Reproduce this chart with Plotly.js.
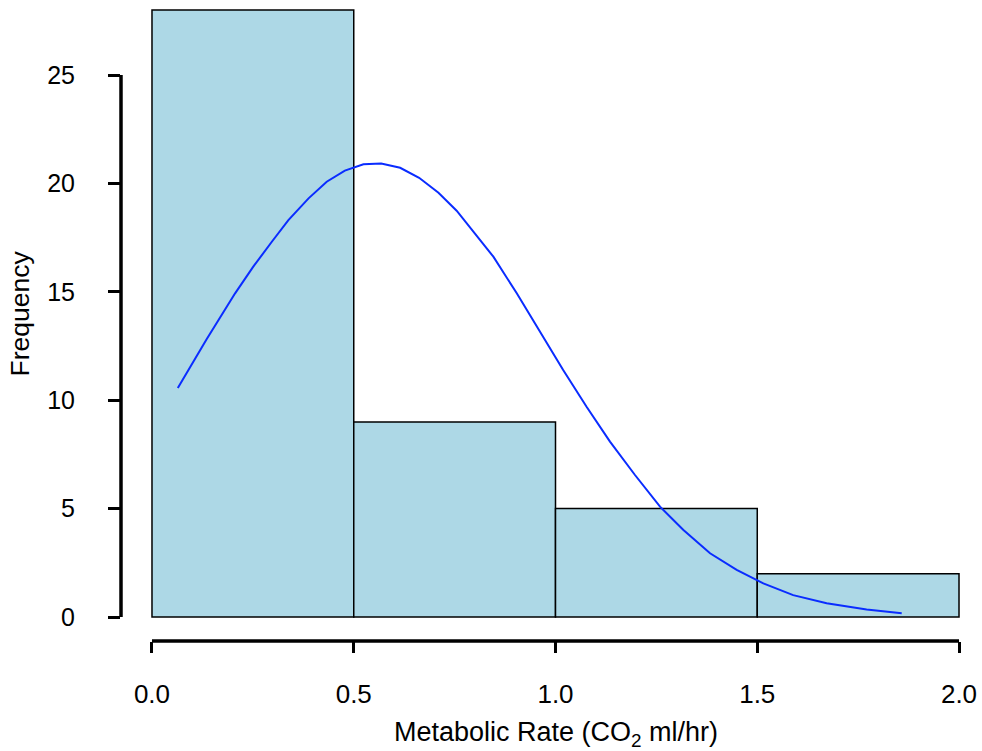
<!DOCTYPE html>
<html>
<head>
<meta charset="utf-8">
<script src="https://cdn.plot.ly/plotly-3.0.1.min.js"></script>
<style>html,body{margin:0;padding:0;background:#fff;}#chart{width:982px;height:751px;}</style>
</head>
<body>
<div id="chart"></div>
<script>
// Histogram bins and counts
const binEdges = [0, 0.5, 1.0, 1.5, 2.0];
const counts = [28, 9, 5, 2];
// Fitted normal curve
const curveX = [0.064, 0.135, 0.206, 0.251, 0.297, 0.338, 0.388, 0.433, 0.478, 0.524, 0.568, 0.615, 0.662, 0.710, 0.755, 0.800, 0.846, 0.904, 0.962, 1.019, 1.077, 1.135, 1.197, 1.259, 1.317, 1.383, 1.449, 1.515, 1.589, 1.672, 1.771, 1.858];
const curveY = [10.56, 12.80, 14.93, 16.16, 17.31, 18.31, 19.31, 20.08, 20.59, 20.88, 20.92, 20.72, 20.26, 19.57, 18.74, 17.70, 16.62, 14.93, 13.16, 11.39, 9.70, 8.09, 6.55, 5.09, 4.01, 2.94, 2.17, 1.55, 1.01, 0.63, 0.35, 0.17];
const xTicks = [0, 0.5, 1.0, 1.5, 2.0];
const xTickText = ['0.0', '0.5', '1.0', '1.5', '2.0'];
const yTicks = [0, 5, 10, 15, 20, 25];
const xTitle = 'Metabolic Rate (CO<sub>2</sub> ml/hr)';
const yTitle = 'Frequency';

const mids = counts.map((c, i) => (binEdges[i] + binEdges[i + 1]) / 2);
const widths = counts.map((c, i) => binEdges[i + 1] - binEdges[i]);

const font = 'Liberation Sans, Arial, sans-serif';

const data = [
  {
    type: 'bar', x: mids, y: counts, width: widths,
    marker: {color: '#ADD8E6', line: {color: '#000', width: 1.5}},
    hoverinfo: 'skip', showlegend: false
  },
  {
    type: 'scatter', mode: 'lines', x: curveX, y: curveY,
    line: {color: '#0a2cff', width: 2},
    hoverinfo: 'skip', showlegend: false
  }
];

const layout = {
  width: 982, height: 751,
  margin: {l: 121, r: 20, t: 5, b: 110},
  paper_bgcolor: '#fff', plot_bgcolor: '#fff',
  font: {family: font, size: 26, color: '#000'},
  bargap: 0,
  xaxis: {
    range: [-0.0768, 2.0074], showgrid: false, zeroline: false, showline: false,
    tickvals: xTicks, ticktext: xTickText,
    ticks: 'outside', ticklen: 11, tickwidth: 3, tickcolor: '#000',
    ticklabelstandoff: 19,
    tickfont: {family: font, size: 26, color: '#000'}
  },
  yaxis: {
    range: [-1.107, 28.23], showgrid: false, zeroline: false, showline: false,
    tickvals: yTicks,
    ticks: 'outside', ticklen: 12, tickwidth: 3, tickcolor: '#000',
    ticklabelstandoff: 28,
    tickfont: {family: font, size: 25, color: '#000'}
  },
  annotations: [
    {text: xTitle, xref: 'x', yref: 'paper', x: 1.0, y: -0.146, xanchor: 'center', yanchor: 'middle',
     showarrow: false, font: {family: font, size: 27, color: '#000'}},
    {text: yTitle, xref: 'paper', yref: 'y', x: -0.119, y: 14, xanchor: 'center', yanchor: 'middle',
     textangle: -90, showarrow: false, font: {family: font, size: 26.5, color: '#000'}}
  ],
  shapes: [
    {type: 'line', xref: 'x', yref: 'paper', x0: xTicks[0], x1: xTicks[xTicks.length - 1], y0: 0, y1: 0, line: {color: '#000', width: 3.5}},
    {type: 'line', xref: 'paper', yref: 'y', x0: 0, x1: 0, y0: yTicks[0], y1: yTicks[yTicks.length - 1], line: {color: '#000', width: 3.5}}
  ]
};

Plotly.newPlot('chart', data, layout, {staticPlot: true, displayModeBar: false});
</script>
</body>
</html>
